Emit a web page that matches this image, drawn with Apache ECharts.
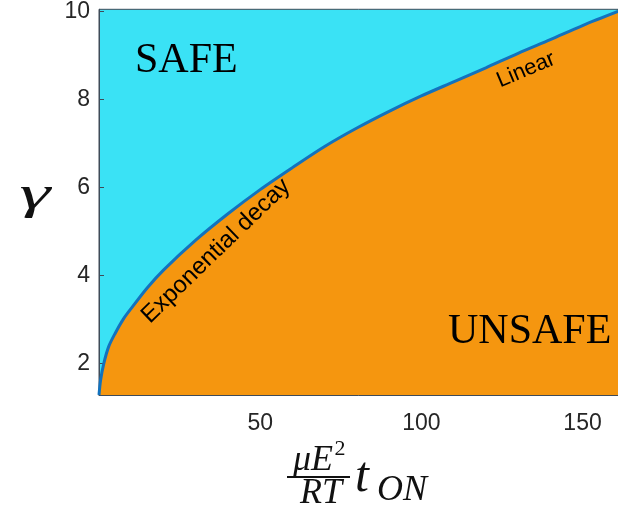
<!DOCTYPE html>
<html>
<head>
<meta charset="utf-8">
<script src="https://cdn.jsdelivr.net/npm/echarts@6/dist/echarts.min.js"></script>
<style>
html,body{margin:0;padding:0;background:#fff;}
#chart{width:618px;height:514px;}
</style>
</head>
<body>
<div id="chart"></div>
<script>
// Boundary curve between SAFE and UNSAFE regions
var xValues = [0, 0.5, 1.5, 3, 5, 7.5, 10, 15, 20, 30, 40, 50, 60, 70, 80, 90, 100, 110, 120, 130, 140, 150, 161];
var gammaValues = [1.28, 1.62, 2.0, 2.38, 2.68, 3.0, 3.25, 3.72, 4.12, 4.8, 5.4, 5.95, 6.45, 6.93, 7.35, 7.73, 8.08, 8.4, 8.72, 9.05, 9.36, 9.68, 10.0];
var xTicks = [50, 100, 150];
var yTicks = [2, 4, 6, 8, 10];

var chart = echarts.init(document.getElementById('chart'), null, {renderer: 'canvas'});
var data = xValues.map(function (x, i) { return [x, gammaValues[i]]; });

var serifI = 'italic 36px "Liberation Serif", "DejaVu Serif", serif';
var option = {
  animation: false,
  grid: {
    left: 99, right: 0, top: 8, bottom: 119,
    show: true, backgroundColor: '#3AE2F5', borderColor: '#3f4b58', borderWidth: 1
  },
  xAxis: {
    type: 'value', min: 0, max: 161,
    splitLine: {show: false},
    axisLine: {show: true, lineStyle: {color: '#3f4b58', width: 1}},
    axisTick: {show: true, inside: true, length: 5, customValues: xTicks, lineStyle: {color: '#3f4b58'}},
    axisLabel: {customValues: xTicks, fontSize: 23, color: '#262626', fontFamily: '"Liberation Sans", Arial, sans-serif', margin: 17}
  },
  yAxis: {
    type: 'value', min: 1.28, max: 10.05,
    splitLine: {show: false},
    axisLine: {show: true, lineStyle: {color: '#3f4b58', width: 1}},
    axisTick: {show: true, inside: true, length: 5, customValues: yTicks, lineStyle: {color: '#3f4b58'}},
    axisLabel: {customValues: yTicks, fontSize: 23, color: '#262626', fontFamily: '"Liberation Sans", Arial, sans-serif', margin: 9}
  },
  series: [{
    type: 'line',
    data: data,
    smooth: 0.3,
    showSymbol: false,
    lineStyle: {color: '#1272BE', width: 3},
    areaStyle: {color: '#F5960F', opacity: 1, origin: 'start'},
    z: 2
  }],
  graphic: [
    {type: 'text', z: 100, left: 135, top: 40, style: {text: 'SAFE', font: '42px "Liberation Serif", "Times New Roman", serif', fill: '#000'}},
    {type: 'text', z: 100, left: 448, top: 311, style: {text: 'UNSAFE', font: '42px "Liberation Serif", "Times New Roman", serif', fill: '#000'}},
    {type: 'text', z: 100, x: 216, y: 251, rotation: 44 * Math.PI / 180,
      style: {text: 'Exponential decay', font: '24px "Liberation Sans", Arial, sans-serif', fill: '#000', align: 'center', verticalAlign: 'middle'}},
    {type: 'text', z: 100, x: 526, y: 70, rotation: 23 * Math.PI / 180,
      style: {text: 'Linear', font: '22px "Liberation Sans", Arial, sans-serif', fill: '#000', align: 'center', verticalAlign: 'middle'}},
    {type: 'text', z: 100, x: 35, y: 196, scaleX: 1.7,
      style: {text: 'γ', font: 'italic 46px "Liberation Serif", "DejaVu Serif", serif', fill: '#111', align: 'center', verticalAlign: 'middle'}},
    {type: 'text', z: 100, x: 313, y: 461, style: {text: 'μE', font: serifI, fill: '#111', align: 'center', verticalAlign: 'middle'}},
    {type: 'text', z: 100, x: 340, y: 449, style: {text: '2', font: '22px "Liberation Serif", serif', fill: '#111', align: 'center', verticalAlign: 'middle'}},
    {type: 'line', z: 100, shape: {x1: 287, y1: 477, x2: 350, y2: 477}, style: {stroke: '#111', lineWidth: 2}},
    {type: 'text', z: 100, x: 321, y: 494, style: {text: 'RT', font: serifI, fill: '#111', align: 'center', verticalAlign: 'middle'}},
    {type: 'text', z: 100, x: 362, y: 478, style: {text: 't', font: 'italic 50px "Liberation Serif", serif', fill: '#111', align: 'center', verticalAlign: 'middle'}},
    {type: 'text', z: 100, x: 402, y: 491, style: {text: 'ON', font: serifI, fill: '#111', align: 'center', verticalAlign: 'middle'}}
  ]
};
chart.setOption(option);
</script>
</body>
</html>
